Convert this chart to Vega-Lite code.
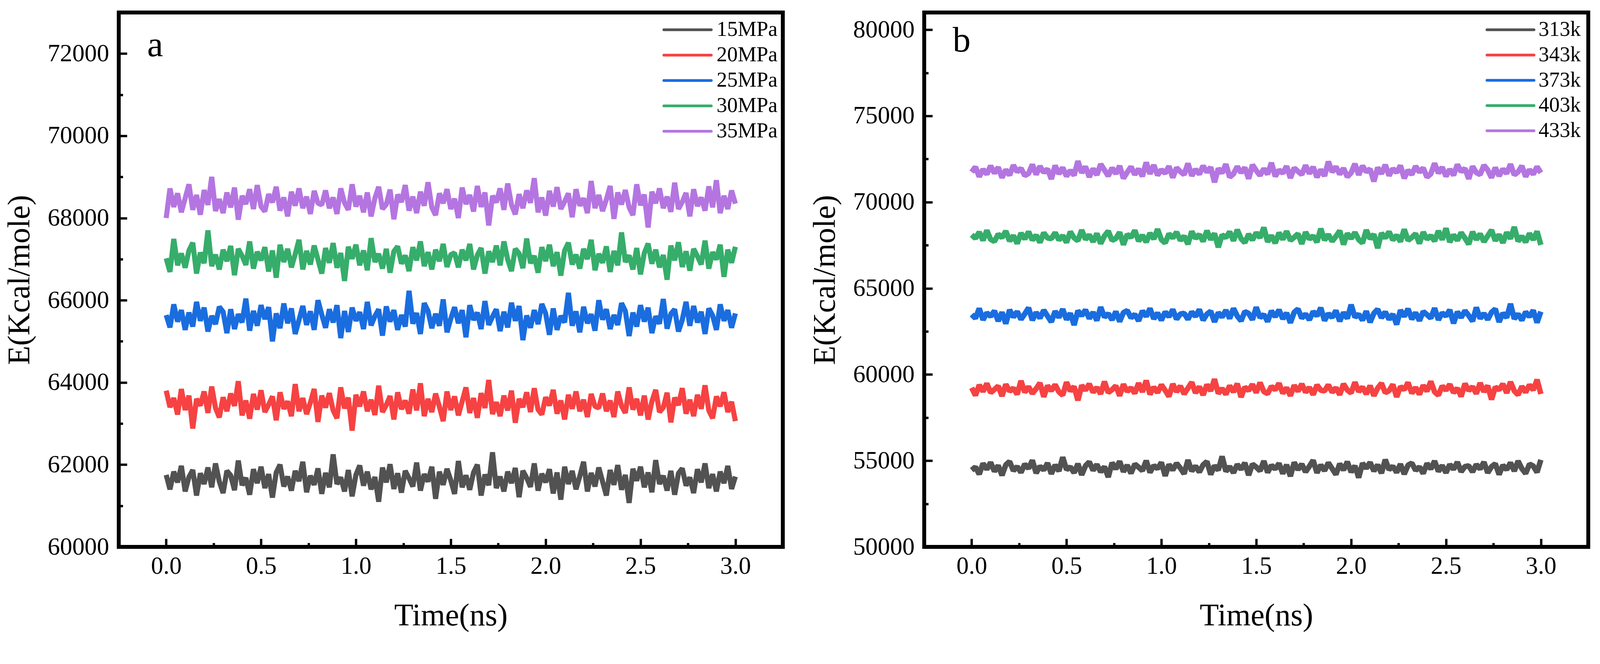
{
  "$schema": "https://vega.github.io/schema/vega-lite/v6.json",
  "background": "white",
  "padding": {"left": 5, "top": 27, "right": 10, "bottom": 10},
  "spacing": 58,
  "config": {
    "view": {"stroke": "black", "strokeWidth": 10},
    "font": "Liberation Serif",
    "axis": {
      "domain": false,
      "grid": false,
      "labelFont": "Liberation Serif",
      "titleFont": "Liberation Serif",
      "labelFontSize": 63,
      "titleFontSize": 80,
      "titleFontWeight": "normal",
      "labelColor": "black",
      "titleColor": "black",
      "tickColor": "black",
      "tickWidth": 6
    },
    "text": {"font": "Liberation Serif", "color": "black"}
  },
  "datasets": {
    "pa": [
      {"t":0,"p15":61750,"p20":63800,"p25":65640,"p30":67020,"p35":68000},
      {"t":0.02,"p15":61400,"p20":63400,"p25":65340,"p30":66690,"p35":68720},
      {"t":0.04,"p15":61830,"p20":63620,"p25":65900,"p30":67490,"p35":68270},
      {"t":0.06,"p15":61570,"p20":63220,"p25":65480,"p30":66850,"p35":68600},
      {"t":0.08,"p15":61970,"p20":63840,"p25":65760,"p30":67140,"p35":68140},
      {"t":0.1,"p15":61350,"p20":63330,"p25":65280,"p30":66790,"p35":68480},
      {"t":0.12,"p15":61700,"p20":63680,"p25":65700,"p30":67210,"p35":68820},
      {"t":0.14,"p15":61870,"p20":62880,"p25":65360,"p30":67400,"p35":68200},
      {"t":0.16,"p15":61250,"p20":63600,"p25":65960,"p30":66650,"p35":68560},
      {"t":0.18,"p15":61790,"p20":63440,"p25":65500,"p30":67160,"p35":68080},
      {"t":0.2,"p15":61530,"p20":63780,"p25":65820,"p30":66900,"p35":68680},
      {"t":0.22,"p15":61930,"p20":63260,"p25":65240,"p30":67700,"p35":68320},
      {"t":0.24,"p15":61450,"p20":63900,"p25":65620,"p30":66830,"p35":69000},
      {"t":0.26,"p15":62030,"p20":63380,"p25":65420,"p30":67110,"p35":68170},
      {"t":0.28,"p15":61590,"p20":63150,"p25":65840,"p30":66750,"p35":68460},
      {"t":0.3,"p15":61310,"p20":63640,"p25":65720,"p30":67230,"p35":68120},
      {"t":0.32,"p15":61850,"p20":63300,"p25":65200,"p30":66950,"p35":68620},
      {"t":0.34,"p15":61740,"p20":63730,"p25":65780,"p30":67320,"p35":68260},
      {"t":0.36,"p15":61380,"p20":63430,"p25":65300,"p30":66610,"p35":68740},
      {"t":0.38,"p15":62100,"p20":64030,"p25":65660,"p30":67250,"p35":67960},
      {"t":0.4,"p15":61500,"p20":63200,"p25":65460,"p30":67080,"p35":68540},
      {"t":0.42,"p15":61680,"p20":63560,"p25":66040,"p30":66860,"p35":68340},
      {"t":0.44,"p15":61270,"p20":63120,"p25":65260,"p30":67430,"p35":68700},
      {"t":0.46,"p15":61890,"p20":63720,"p25":65740,"p30":66770,"p35":68220},
      {"t":0.48,"p15":61550,"p20":63340,"p25":65380,"p30":67180,"p35":68800},
      {"t":0.5,"p15":61950,"p20":63810,"p25":65880,"p30":66970,"p35":68280},
      {"t":0.52,"p15":61430,"p20":63280,"p25":65540,"p30":67290,"p35":68160},
      {"t":0.54,"p15":61770,"p20":63460,"p25":65830,"p30":66700,"p35":68580},
      {"t":0.56,"p15":61200,"p20":63660,"p25":65000,"p30":67210,"p35":68380},
      {"t":0.58,"p15":61810,"p20":63080,"p25":65680,"p30":66550,"p35":68760},
      {"t":0.6,"p15":62000,"p20":63760,"p25":65320,"p30":67350,"p35":68180},
      {"t":0.62,"p15":61470,"p20":63360,"p25":65920,"p30":66930,"p35":68500},
      {"t":0.64,"p15":61710,"p20":63540,"p25":65440,"p30":67250,"p35":68040},
      {"t":0.66,"p15":61370,"p20":63180,"p25":65800,"p30":66800,"p35":68640},
      {"t":0.68,"p15":61850,"p20":63960,"p25":65180,"p30":67120,"p35":68300},
      {"t":0.7,"p15":61600,"p20":63300,"p25":65520,"p30":67470,"p35":68720},
      {"t":0.72,"p15":62070,"p20":63620,"p25":65860,"p30":66750,"p35":68240},
      {"t":0.74,"p15":61330,"p20":63230,"p25":65400,"p30":67200,"p35":68520},
      {"t":0.76,"p15":61730,"p20":63510,"p25":65730,"p30":66870,"p35":68100},
      {"t":0.78,"p15":61510,"p20":63840,"p25":65280,"p30":67330,"p35":68660},
      {"t":0.8,"p15":61910,"p20":63040,"p25":66000,"p30":66990,"p35":68360},
      {"t":0.82,"p15":61290,"p20":63680,"p25":65650,"p30":66650,"p35":68320},
      {"t":0.84,"p15":61800,"p20":63390,"p25":65330,"p30":67270,"p35":68670},
      {"t":0.86,"p15":61450,"p20":63740,"p25":65780,"p30":66910,"p35":68240},
      {"t":0.88,"p15":62250,"p20":63320,"p25":65460,"p30":67390,"p35":68500},
      {"t":0.9,"p15":61530,"p20":63130,"p25":65880,"p30":66790,"p35":68100},
      {"t":0.92,"p15":61690,"p20":63880,"p25":65080,"p30":67150,"p35":68720},
      {"t":0.94,"p15":61350,"p20":63370,"p25":65740,"p30":66470,"p35":68370},
      {"t":0.96,"p15":61870,"p20":63630,"p25":65230,"p30":67300,"p35":68200},
      {"t":0.98,"p15":61230,"p20":62830,"p25":65820,"p30":67010,"p35":68820},
      {"t":1,"p15":61750,"p20":63700,"p25":65500,"p30":67350,"p35":68280},
      {"t":1.02,"p15":61980,"p20":63420,"p25":65710,"p30":66850,"p35":68540},
      {"t":1.04,"p15":61490,"p20":63780,"p25":65300,"p30":67210,"p35":68140},
      {"t":1.06,"p15":61830,"p20":63300,"p25":65960,"p30":66730,"p35":68620},
      {"t":1.08,"p15":61400,"p20":63580,"p25":65390,"p30":67510,"p35":68040},
      {"t":1.1,"p15":61700,"p20":63210,"p25":65610,"p30":66930,"p35":68480},
      {"t":1.12,"p15":61100,"p20":63920,"p25":65780,"p30":67130,"p35":68760},
      {"t":1.14,"p15":61930,"p20":63280,"p25":65140,"p30":66770,"p35":68220},
      {"t":1.16,"p15":61570,"p20":63450,"p25":65850,"p30":67250,"p35":68330},
      {"t":1.18,"p15":62010,"p20":63670,"p25":65480,"p30":66670,"p35":68690},
      {"t":1.2,"p15":61410,"p20":63100,"p25":65760,"p30":67190,"p35":67970},
      {"t":1.22,"p15":61790,"p20":63760,"p25":65280,"p30":67310,"p35":68570},
      {"t":1.24,"p15":61320,"p20":63350,"p25":65640,"p30":66890,"p35":68390},
      {"t":1.26,"p15":61850,"p20":63560,"p25":65360,"p30":67090,"p35":68800},
      {"t":1.28,"p15":61670,"p20":63240,"p25":66230,"p30":66710,"p35":68180},
      {"t":1.3,"p15":61470,"p20":63830,"p25":65430,"p30":67290,"p35":68520},
      {"t":1.32,"p15":62050,"p20":63320,"p25":65690,"p30":66970,"p35":68120},
      {"t":1.34,"p15":61370,"p20":63980,"p25":65180,"p30":67430,"p35":68640},
      {"t":1.36,"p15":61770,"p20":63180,"p25":65930,"p30":66830,"p35":68300},
      {"t":1.38,"p15":61590,"p20":63600,"p25":65740,"p30":67170,"p35":68870},
      {"t":1.4,"p15":61950,"p20":63280,"p25":65320,"p30":66750,"p35":68260},
      {"t":1.42,"p15":61170,"p20":63730,"p25":65670,"p30":67230,"p35":68070},
      {"t":1.44,"p15":61830,"p20":63410,"p25":65380,"p30":66950,"p35":68600},
      {"t":1.46,"p15":61510,"p20":63060,"p25":66020,"p30":67370,"p35":68360},
      {"t":1.48,"p15":61900,"p20":63780,"p25":65220,"p30":66810,"p35":68700},
      {"t":1.5,"p15":61620,"p20":63330,"p25":65550,"p30":67110,"p35":68220},
      {"t":1.52,"p15":61290,"p20":63660,"p25":65830,"p30":67150,"p35":68470},
      {"t":1.54,"p15":62090,"p20":63200,"p25":65440,"p30":66800,"p35":68000},
      {"t":1.56,"p15":61450,"p20":63540,"p25":65760,"p30":67230,"p35":68740},
      {"t":1.58,"p15":61740,"p20":63880,"p25":65100,"p30":66970,"p35":68340},
      {"t":1.6,"p15":61390,"p20":63260,"p25":65880,"p30":67370,"p35":68560},
      {"t":1.62,"p15":61810,"p20":63620,"p25":65520,"p30":66750,"p35":68160},
      {"t":1.64,"p15":62000,"p20":63140,"p25":65700,"p30":67100,"p35":68780},
      {"t":1.66,"p15":61250,"p20":63740,"p25":65300,"p30":67270,"p35":68270},
      {"t":1.68,"p15":61760,"p20":63380,"p25":65980,"p30":66650,"p35":68620},
      {"t":1.7,"p15":61500,"p20":64060,"p25":65400,"p30":67190,"p35":67820},
      {"t":1.72,"p15":62300,"p20":63230,"p25":65600,"p30":66930,"p35":68540},
      {"t":1.74,"p15":61430,"p20":63520,"p25":65780,"p30":67330,"p35":68380},
      {"t":1.76,"p15":61710,"p20":63180,"p25":65250,"p30":66850,"p35":68720},
      {"t":1.78,"p15":61350,"p20":63680,"p25":65720,"p30":67430,"p35":68200},
      {"t":1.8,"p15":61830,"p20":63320,"p25":65340,"p30":66990,"p35":68840},
      {"t":1.82,"p15":61550,"p20":63800,"p25":65940,"p30":66710,"p35":68320},
      {"t":1.84,"p15":61920,"p20":63020,"p25":65500,"p30":67250,"p35":68090},
      {"t":1.86,"p15":61210,"p20":63600,"p25":65860,"p30":67140,"p35":68580},
      {"t":1.88,"p15":61850,"p20":63400,"p25":65030,"p30":66780,"p35":68240},
      {"t":1.9,"p15":61680,"p20":63760,"p25":65630,"p30":67500,"p35":68670},
      {"t":1.92,"p15":61460,"p20":63280,"p25":65330,"p30":66900,"p35":68370},
      {"t":1.94,"p15":62030,"p20":63860,"p25":65760,"p30":67080,"p35":68970},
      {"t":1.96,"p15":61370,"p20":63340,"p25":65420,"p30":66670,"p35":68140},
      {"t":1.98,"p15":61780,"p20":63220,"p25":65910,"p30":67290,"p35":68500},
      {"t":2,"p15":61570,"p20":63640,"p25":65680,"p30":66950,"p35":68060},
      {"t":2.02,"p15":61890,"p20":63440,"p25":65160,"p30":67350,"p35":68660},
      {"t":2.04,"p15":61300,"p20":63820,"p25":65800,"p30":66830,"p35":68280},
      {"t":2.06,"p15":61810,"p20":63240,"p25":65280,"p30":67170,"p35":68750},
      {"t":2.08,"p15":61150,"p20":63560,"p25":65620,"p30":66600,"p35":68220},
      {"t":2.1,"p15":61950,"p20":63100,"p25":65460,"p30":67210,"p35":68400},
      {"t":2.12,"p15":61530,"p20":63700,"p25":66180,"p30":67400,"p35":68600},
      {"t":2.14,"p15":61850,"p20":63360,"p25":65380,"p30":66870,"p35":68020},
      {"t":2.16,"p15":61400,"p20":63780,"p25":65730,"p30":67110,"p35":68700},
      {"t":2.18,"p15":61720,"p20":63300,"p25":65220,"p30":66770,"p35":68300},
      {"t":2.2,"p15":62070,"p20":63580,"p25":65840,"p30":67250,"p35":68480},
      {"t":2.22,"p15":61350,"p20":63160,"p25":65440,"p30":67000,"p35":68120},
      {"t":2.24,"p15":61800,"p20":63720,"p25":65660,"p30":67470,"p35":68900},
      {"t":2.26,"p15":61470,"p20":63420,"p25":65260,"p30":66730,"p35":68240},
      {"t":2.28,"p15":61930,"p20":63380,"p25":66000,"p30":67130,"p35":68560},
      {"t":2.3,"p15":61590,"p20":63730,"p25":65530,"p30":66910,"p35":68170},
      {"t":2.32,"p15":61250,"p20":63300,"p25":65780,"p30":67310,"p35":68450},
      {"t":2.34,"p15":61870,"p20":63560,"p25":65300,"p30":66690,"p35":68780},
      {"t":2.36,"p15":61510,"p20":63160,"p25":65640,"p30":67200,"p35":67980},
      {"t":2.38,"p15":61990,"p20":63780,"p25":65400,"p30":66850,"p35":68620},
      {"t":2.4,"p15":61390,"p20":63430,"p25":65930,"p30":67650,"p35":68330},
      {"t":2.42,"p15":61750,"p20":63260,"p25":65740,"p30":66930,"p35":68680},
      {"t":2.44,"p15":61070,"p20":63880,"p25":65130,"p30":67090,"p35":68260},
      {"t":2.46,"p15":61900,"p20":63340,"p25":65700,"p30":66750,"p35":68070},
      {"t":2.48,"p15":61610,"p20":63600,"p25":65360,"p30":67270,"p35":68820},
      {"t":2.5,"p15":61950,"p20":63200,"p25":65880,"p30":66630,"p35":68310},
      {"t":2.52,"p15":61450,"p20":63680,"p25":65480,"p30":67150,"p35":68570},
      {"t":2.54,"p15":61810,"p20":63100,"p25":65820,"p30":67380,"p35":67770},
      {"t":2.56,"p15":61330,"p20":63540,"p25":65200,"p30":66890,"p35":68640},
      {"t":2.58,"p15":62110,"p20":63820,"p25":65610,"p30":67230,"p35":68360},
      {"t":2.6,"p15":61530,"p20":63280,"p25":65430,"p30":66800,"p35":68720},
      {"t":2.62,"p15":61730,"p20":63390,"p25":66030,"p30":67100,"p35":68240},
      {"t":2.64,"p15":61370,"p20":63750,"p25":65310,"p30":66500,"p35":68520},
      {"t":2.66,"p15":61850,"p20":63030,"p25":65670,"p30":67330,"p35":68150},
      {"t":2.68,"p15":61270,"p20":63630,"p25":65780,"p30":66970,"p35":68860},
      {"t":2.7,"p15":61790,"p20":63450,"p25":65240,"p30":67410,"p35":68220},
      {"t":2.72,"p15":61910,"p20":63860,"p25":65520,"p30":66810,"p35":68390},
      {"t":2.74,"p15":61490,"p20":63240,"p25":65960,"p30":67190,"p35":68610},
      {"t":2.76,"p15":61690,"p20":63580,"p25":65380,"p30":66720,"p35":68040},
      {"t":2.78,"p15":61310,"p20":63180,"p25":65860,"p30":67250,"p35":68700},
      {"t":2.8,"p15":61890,"p20":63700,"p25":65460,"p30":67070,"p35":68290},
      {"t":2.82,"p15":61570,"p20":63360,"p25":65720,"p30":66870,"p35":68500},
      {"t":2.84,"p15":62030,"p20":63930,"p25":65180,"p30":67450,"p35":68180},
      {"t":2.86,"p15":61430,"p20":63320,"p25":65800,"p30":66770,"p35":68770},
      {"t":2.88,"p15":61770,"p20":63130,"p25":65630,"p30":67170,"p35":68260},
      {"t":2.9,"p15":61350,"p20":63660,"p25":65280,"p30":66990,"p35":68920},
      {"t":2.92,"p15":61830,"p20":63420,"p25":65900,"p30":67350,"p35":68120},
      {"t":2.94,"p15":61550,"p20":63760,"p25":65500,"p30":66570,"p35":68540},
      {"t":2.96,"p15":61970,"p20":63280,"p25":65760,"p30":67230,"p35":68220},
      {"t":2.98,"p15":61410,"p20":63530,"p25":65330,"p30":66910,"p35":68670},
      {"t":3,"p15":61710,"p20":63060,"p25":65680,"p30":67300,"p35":68350}
    ],
    "pb": [
      {"t":0,"k313":54450,"k343":59230,"k373":63480,"k403":68100,"k433":71740},
      {"t":0.02,"k313":54630,"k343":58790,"k373":63260,"k403":67900,"k433":72040},
      {"t":0.04,"k313":54220,"k343":59390,"k373":63830,"k403":68260,"k433":71480},
      {"t":0.06,"k313":54840,"k343":59010,"k373":63170,"k403":67780,"k433":71900},
      {"t":0.08,"k313":54500,"k343":59480,"k373":63580,"k403":68360,"k433":71620},
      {"t":0.1,"k313":54900,"k343":58950,"k373":63370,"k403":67840,"k433":72100},
      {"t":0.12,"k313":54380,"k343":59130,"k373":63690,"k403":67720,"k433":71680},
      {"t":0.14,"k313":54720,"k343":59330,"k373":63100,"k403":68140,"k433":72020},
      {"t":0.16,"k313":54150,"k343":58750,"k373":63610,"k403":67940,"k433":71420},
      {"t":0.18,"k313":54760,"k343":59430,"k373":62950,"k403":68320,"k433":71880},
      {"t":0.2,"k313":54950,"k343":59030,"k373":63750,"k403":67740,"k433":71560},
      {"t":0.22,"k313":54420,"k343":59210,"k373":63330,"k403":68060,"k433":72140},
      {"t":0.24,"k313":54660,"k343":58850,"k373":63650,"k403":67600,"k433":71760},
      {"t":0.26,"k313":54320,"k343":59630,"k373":63200,"k403":68200,"k433":71960},
      {"t":0.28,"k313":54800,"k343":58970,"k373":63520,"k403":67860,"k433":71540},
      {"t":0.3,"k313":54550,"k343":59290,"k373":63870,"k403":68280,"k433":71660},
      {"t":0.32,"k313":55020,"k343":58900,"k373":63150,"k403":67800,"k433":72180},
      {"t":0.34,"k313":54280,"k343":59180,"k373":63600,"k403":68080,"k433":71600},
      {"t":0.36,"k313":54680,"k343":59510,"k373":63270,"k403":67660,"k433":72080},
      {"t":0.38,"k313":54460,"k343":58710,"k373":63730,"k403":68220,"k433":71720},
      {"t":0.4,"k313":54860,"k343":59350,"k373":63390,"k403":67920,"k433":71920},
      {"t":0.42,"k313":54240,"k343":59060,"k373":63050,"k403":67880,"k433":71340},
      {"t":0.44,"k313":54750,"k343":59410,"k373":63670,"k403":68230,"k433":72120},
      {"t":0.46,"k313":54400,"k343":58990,"k373":63310,"k403":67800,"k433":71640},
      {"t":0.48,"k313":55200,"k343":58800,"k373":63790,"k403":68060,"k433":72000},
      {"t":0.5,"k313":54480,"k343":59550,"k373":63190,"k403":67660,"k433":71500},
      {"t":0.52,"k313":54640,"k343":59040,"k373":63550,"k403":68280,"k433":71840},
      {"t":0.54,"k313":54300,"k343":59300,"k373":62870,"k403":67930,"k433":71550},
      {"t":0.56,"k313":54820,"k343":58500,"k373":63700,"k403":67760,"k433":72380},
      {"t":0.58,"k313":54180,"k343":59370,"k373":63410,"k403":68380,"k433":71700},
      {"t":0.6,"k313":54700,"k343":59090,"k373":63750,"k403":67840,"k433":72060},
      {"t":0.62,"k313":54930,"k343":59450,"k373":63250,"k403":68100,"k433":71460},
      {"t":0.64,"k313":54440,"k343":58970,"k373":63610,"k403":67700,"k433":71940},
      {"t":0.66,"k313":54780,"k343":59250,"k373":63130,"k403":68180,"k433":71580},
      {"t":0.68,"k313":54350,"k343":58880,"k373":63910,"k403":67600,"k433":72200},
      {"t":0.7,"k313":54650,"k343":59590,"k373":63330,"k403":68040,"k433":71860},
      {"t":0.72,"k313":54050,"k343":58950,"k373":63530,"k403":68320,"k433":71520},
      {"t":0.74,"k313":54880,"k343":59120,"k373":63170,"k403":67780,"k433":71980},
      {"t":0.76,"k313":54520,"k343":59340,"k373":63650,"k403":67890,"k433":71650},
      {"t":0.78,"k313":54960,"k343":58770,"k373":63070,"k403":68250,"k433":72100},
      {"t":0.8,"k313":54360,"k343":59430,"k373":63590,"k403":67530,"k433":71380},
      {"t":0.82,"k313":54740,"k343":59020,"k373":63710,"k403":68130,"k433":71730},
      {"t":0.84,"k313":54270,"k343":59230,"k373":63290,"k403":67950,"k433":72050},
      {"t":0.86,"k313":54800,"k343":58910,"k373":63490,"k403":68360,"k433":71600},
      {"t":0.88,"k313":54620,"k343":59500,"k373":63110,"k403":67740,"k433":71920},
      {"t":0.9,"k313":54420,"k343":58990,"k373":63690,"k403":68080,"k433":71500},
      {"t":0.92,"k313":55000,"k343":59650,"k373":63370,"k403":67680,"k433":72300},
      {"t":0.94,"k313":54320,"k343":58850,"k373":63830,"k403":68200,"k433":71640},
      {"t":0.96,"k313":54720,"k343":59270,"k373":63230,"k403":67860,"k433":72150},
      {"t":0.98,"k313":54540,"k343":58950,"k373":63570,"k403":68430,"k433":71560},
      {"t":1,"k313":54900,"k343":59400,"k373":63150,"k403":67820,"k433":71880},
      {"t":1.02,"k313":54120,"k343":59080,"k373":63630,"k403":67630,"k433":71670},
      {"t":1.04,"k313":54780,"k343":58730,"k373":63350,"k403":68160,"k433":72080},
      {"t":1.06,"k313":54460,"k343":59450,"k373":63770,"k403":67920,"k433":71420},
      {"t":1.08,"k313":54850,"k343":59000,"k373":63210,"k403":68260,"k433":71990},
      {"t":1.1,"k313":54570,"k343":59330,"k373":63510,"k403":67780,"k433":71770},
      {"t":1.12,"k313":54240,"k343":58870,"k373":63550,"k403":68030,"k433":71600},
      {"t":1.14,"k313":55040,"k343":59210,"k373":63200,"k403":67560,"k433":72240},
      {"t":1.16,"k313":54400,"k343":59550,"k373":63630,"k403":68300,"k433":71530},
      {"t":1.18,"k313":54690,"k343":58930,"k373":63370,"k403":67900,"k433":71900},
      {"t":1.2,"k313":54340,"k343":59290,"k373":63770,"k403":68120,"k433":71620},
      {"t":1.22,"k313":54760,"k343":58810,"k373":63150,"k403":67720,"k433":72100},
      {"t":1.24,"k313":54950,"k343":59410,"k373":63500,"k403":68340,"k433":71740},
      {"t":1.26,"k313":54200,"k343":59050,"k373":63670,"k403":67830,"k433":72020},
      {"t":1.28,"k313":54710,"k343":59730,"k373":63050,"k403":68180,"k433":71150},
      {"t":1.3,"k313":54450,"k343":58900,"k373":63590,"k403":67380,"k433":71950},
      {"t":1.32,"k313":55250,"k343":59190,"k373":63330,"k403":68100,"k433":71690},
      {"t":1.34,"k313":54380,"k343":58850,"k373":63730,"k403":67940,"k433":72200},
      {"t":1.36,"k313":54660,"k343":59350,"k373":63250,"k403":68280,"k433":71450},
      {"t":1.38,"k313":54300,"k343":58990,"k373":63830,"k403":67760,"k433":71640},
      {"t":1.4,"k313":54780,"k343":59470,"k373":63390,"k403":68400,"k433":72060},
      {"t":1.42,"k313":54500,"k343":58690,"k373":63110,"k403":67880,"k433":71710},
      {"t":1.44,"k313":54870,"k343":59270,"k373":63650,"k403":67650,"k433":72000},
      {"t":1.46,"k313":54160,"k343":59070,"k373":63540,"k403":68140,"k433":71360},
      {"t":1.48,"k313":54800,"k343":59430,"k373":63180,"k403":67800,"k433":72160},
      {"t":1.5,"k313":54630,"k343":58950,"k373":63900,"k403":68230,"k433":71830},
      {"t":1.52,"k313":54410,"k343":59530,"k373":63300,"k403":67930,"k433":71550},
      {"t":1.54,"k313":54980,"k343":59010,"k373":63480,"k403":68530,"k433":71940},
      {"t":1.56,"k313":54320,"k343":58890,"k373":63070,"k403":67700,"k433":71620},
      {"t":1.58,"k313":54730,"k343":59310,"k373":63690,"k403":68060,"k433":72280},
      {"t":1.6,"k313":54520,"k343":59110,"k373":63350,"k403":67620,"k433":71500},
      {"t":1.62,"k313":54840,"k343":59490,"k373":63750,"k403":68220,"k433":71860},
      {"t":1.64,"k313":54250,"k343":58910,"k373":63230,"k403":67840,"k433":71680},
      {"t":1.66,"k313":54760,"k343":59230,"k373":63570,"k403":68310,"k433":72080},
      {"t":1.68,"k313":54100,"k343":58770,"k373":63000,"k403":67780,"k433":71400},
      {"t":1.7,"k313":54900,"k343":59370,"k373":63610,"k403":67960,"k433":71980},
      {"t":1.72,"k313":54480,"k343":59030,"k373":63800,"k403":68160,"k433":71780},
      {"t":1.74,"k313":54800,"k343":59450,"k373":63270,"k403":67580,"k433":71600},
      {"t":1.76,"k313":54350,"k343":58970,"k373":63510,"k403":68260,"k433":72130},
      {"t":1.78,"k313":54670,"k343":59250,"k373":63170,"k403":67860,"k433":71660},
      {"t":1.8,"k313":55020,"k343":58830,"k373":63650,"k403":68040,"k433":72040},
      {"t":1.82,"k313":54300,"k343":59390,"k373":63400,"k403":67680,"k433":71440},
      {"t":1.84,"k313":54750,"k343":59090,"k373":63870,"k403":68460,"k433":71880},
      {"t":1.86,"k313":54420,"k343":59050,"k373":63130,"k403":67800,"k433":71520},
      {"t":1.88,"k313":54880,"k343":59400,"k373":63530,"k403":68120,"k433":72350},
      {"t":1.9,"k313":54540,"k343":58970,"k373":63310,"k403":67730,"k433":71750},
      {"t":1.92,"k313":54200,"k343":59230,"k373":63710,"k403":68010,"k433":72050},
      {"t":1.94,"k313":54820,"k343":58830,"k373":63090,"k403":68340,"k433":71620},
      {"t":1.96,"k313":54460,"k343":59450,"k373":63600,"k403":67540,"k433":71960},
      {"t":1.98,"k313":54940,"k343":59100,"k373":63250,"k403":68180,"k433":71470},
      {"t":2,"k313":54340,"k343":58930,"k373":64050,"k403":67890,"k433":71700},
      {"t":2.02,"k313":54700,"k343":59550,"k373":63330,"k403":68240,"k433":72220},
      {"t":2.04,"k313":54020,"k343":59010,"k373":63490,"k403":67820,"k433":71580},
      {"t":2.06,"k313":54850,"k343":59270,"k373":63150,"k403":67630,"k433":72100},
      {"t":2.08,"k313":54560,"k343":58870,"k373":63670,"k403":68380,"k433":71760},
      {"t":2.1,"k313":54900,"k343":59350,"k373":63030,"k403":67870,"k433":71920},
      {"t":2.12,"k313":54400,"k343":58770,"k373":63550,"k403":68130,"k433":71200},
      {"t":2.14,"k313":54760,"k343":59210,"k373":63780,"k403":67330,"k433":72000},
      {"t":2.16,"k313":54280,"k343":59490,"k373":63290,"k403":68200,"k433":71650},
      {"t":2.18,"k313":55060,"k343":58950,"k373":63630,"k403":67920,"k433":72160},
      {"t":2.2,"k313":54480,"k343":59060,"k373":63200,"k403":68280,"k433":71540},
      {"t":2.22,"k313":54680,"k343":59420,"k373":63500,"k403":67800,"k433":71940},
      {"t":2.24,"k313":54320,"k343":58700,"k373":62900,"k403":68080,"k433":71720},
      {"t":2.26,"k313":54800,"k343":59300,"k373":63730,"k403":67710,"k433":72120},
      {"t":2.28,"k313":54220,"k343":59120,"k373":63370,"k403":68420,"k433":71380},
      {"t":2.3,"k313":54740,"k343":59530,"k373":63810,"k403":67780,"k433":71850},
      {"t":2.32,"k313":54860,"k343":58910,"k373":63210,"k403":67950,"k433":71600},
      {"t":2.34,"k313":54440,"k343":59250,"k373":63590,"k403":68170,"k433":72080},
      {"t":2.36,"k313":54640,"k343":58850,"k373":63120,"k403":67600,"k433":71740},
      {"t":2.38,"k313":54260,"k343":59370,"k373":63650,"k403":68260,"k433":71980},
      {"t":2.4,"k313":54840,"k343":59030,"k373":63470,"k403":67850,"k433":71450},
      {"t":2.42,"k313":54520,"k343":59600,"k373":63270,"k403":68060,"k433":71640},
      {"t":2.44,"k313":54980,"k343":58990,"k373":63850,"k403":67740,"k433":72250},
      {"t":2.46,"k313":54380,"k343":58800,"k373":63170,"k403":68330,"k433":71680},
      {"t":2.48,"k313":54720,"k343":59330,"k373":63570,"k403":67820,"k433":72020},
      {"t":2.5,"k313":54300,"k343":59090,"k373":63390,"k403":68480,"k433":71500},
      {"t":2.52,"k313":54780,"k343":59430,"k373":63750,"k403":67680,"k433":71900},
      {"t":2.54,"k313":54500,"k343":58950,"k373":62970,"k403":68100,"k433":71560},
      {"t":2.56,"k313":54920,"k343":59200,"k373":63630,"k403":67780,"k433":72180},
      {"t":2.58,"k313":54360,"k343":58730,"k373":63310,"k403":68230,"k433":71770},
      {"t":2.6,"k313":54660,"k343":59470,"k373":63700,"k403":67910,"k433":71950},
      {"t":2.62,"k313":54700,"k343":59070,"k373":63420,"k403":67560,"k433":71350},
      {"t":2.64,"k313":54350,"k343":59290,"k373":63090,"k403":68280,"k433":72070},
      {"t":2.66,"k313":54780,"k343":58890,"k373":63890,"k403":67830,"k433":71710},
      {"t":2.68,"k313":54520,"k343":59510,"k373":63250,"k403":68160,"k433":71600},
      {"t":2.7,"k313":54920,"k343":59000,"k373":63540,"k403":67700,"k433":72140},
      {"t":2.72,"k313":54300,"k343":59350,"k373":63190,"k403":68040,"k433":71860},
      {"t":2.74,"k313":54650,"k343":58550,"k373":63610,"k403":68380,"k433":71420},
      {"t":2.76,"k313":54820,"k343":59270,"k373":63800,"k403":67760,"k433":72000},
      {"t":2.78,"k313":54200,"k343":59110,"k373":63050,"k403":68120,"k433":71520},
      {"t":2.8,"k313":54740,"k343":59450,"k373":63560,"k403":67640,"k433":71920},
      {"t":2.82,"k313":54480,"k343":58930,"k373":63300,"k403":68240,"k433":71660},
      {"t":2.84,"k313":54880,"k343":59570,"k373":64100,"k403":67880,"k433":72200},
      {"t":2.86,"k313":54400,"k343":59050,"k373":63230,"k403":68560,"k433":71580},
      {"t":2.88,"k313":54980,"k343":58820,"k373":63510,"k403":67730,"k433":71750},
      {"t":2.9,"k313":54540,"k343":59310,"k373":63150,"k403":68020,"k433":72100},
      {"t":2.92,"k313":54260,"k343":58970,"k373":63630,"k403":67680,"k433":71480},
      {"t":2.94,"k313":54800,"k343":59400,"k373":63350,"k403":68180,"k433":71880},
      {"t":2.96,"k313":54690,"k343":59100,"k373":63720,"k403":67820,"k433":71620},
      {"t":2.98,"k313":54330,"k343":59700,"k373":63010,"k403":68300,"k433":72050},
      {"t":3,"k313":55050,"k343":58870,"k373":63650,"k403":67520,"k433":71700}
    ]
  },
  "hconcat": [
    {
      "width": 1700,
      "height": 1369,
      "resolve": {"axis": {"x": "independent", "y": "independent"}},
      "layer": [
        {
          "data": {"name": "pa"},
          "transform": [{"fold": ["p15", "p20", "p25", "p30", "p35"], "as": ["series", "E"]}],
          "mark": {"type": "line", "strokeWidth": 13, "strokeJoin": "bevel"},
          "encoding": {
            "x": {"field": "t", "type": "quantitative",
              "scale": {"domain": [-0.25, 3.25], "nice": false, "zero": false},
              "axis": {"title": "Time(ns)", "orient": "bottom", "values": [0, 0.5, 1, 1.5, 2, 2.5, 3], "format": ".1f", "tickSize": -21, "labelPadding": 39, "titlePadding": 56}},
            "y": {"field": "E", "type": "quantitative",
              "scale": {"domain": [60000, 73000], "nice": false, "zero": false},
              "axis": {"title": "E(Kcal/mole)", "orient": "left", "values": [60000, 62000, 64000, 66000, 68000, 70000, 72000], "format": "d", "tickSize": -21, "labelPadding": 46, "titlePadding": 30}},
            "color": {"field": "series", "type": "nominal",
              "scale": {"domain": ["p15", "p20", "p25", "p30", "p35"], "range": ["#525252", "#f64242", "#1a6ddf", "#36ad6a", "#b475e1"]},
              "legend": null}
          }
        },
        {
          "data": {"values": [{}]},
          "mark": {"type": "text", "text": "a", "fontSize": 92, "align": "left", "baseline": "alphabetic"},
          "encoding": {
            "x": {"datum": -0.1, "type": "quantitative", "axis": {"orient": "bottom", "values": [0.25, 0.75, 1.25, 1.75, 2.25, 2.75], "tickSize": -10.5, "labels": false, "title": null}},
            "y": {"datum": 71935, "type": "quantitative", "axis": {"orient": "left", "values": [61000, 63000, 65000, 67000, 69000, 71000], "tickSize": -10.5, "labels": false, "title": null}}
          }
        },
        {"data": {"values": [{}]}, "mark": {"type": "rule", "color": "#525252", "strokeWidth": 7, "strokeCap": "round"},
          "encoding": {"x": {"datum": 2.623, "type": "quantitative", "axis": null}, "x2": {"datum": 2.873}, "y": {"datum": 72580, "type": "quantitative", "axis": null}}},
        {"data": {"values": [{}]}, "mark": {"type": "rule", "color": "#f64242", "strokeWidth": 7, "strokeCap": "round"},
          "encoding": {"x": {"datum": 2.623, "type": "quantitative", "axis": null}, "x2": {"datum": 2.873}, "y": {"datum": 71963, "type": "quantitative", "axis": null}}},
        {"data": {"values": [{}]}, "mark": {"type": "rule", "color": "#1a6ddf", "strokeWidth": 7, "strokeCap": "round"},
          "encoding": {"x": {"datum": 2.623, "type": "quantitative", "axis": null}, "x2": {"datum": 2.873}, "y": {"datum": 71346, "type": "quantitative", "axis": null}}},
        {"data": {"values": [{}]}, "mark": {"type": "rule", "color": "#36ad6a", "strokeWidth": 7, "strokeCap": "round"},
          "encoding": {"x": {"datum": 2.623, "type": "quantitative", "axis": null}, "x2": {"datum": 2.873}, "y": {"datum": 70729, "type": "quantitative", "axis": null}}},
        {"data": {"values": [{}]}, "mark": {"type": "rule", "color": "#b475e1", "strokeWidth": 7, "strokeCap": "round"},
          "encoding": {"x": {"datum": 2.623, "type": "quantitative", "axis": null}, "x2": {"datum": 2.873}, "y": {"datum": 70112, "type": "quantitative", "axis": null}}},
        {"data": {"values": [{}]}, "mark": {"type": "text", "text": "15MPa", "fontSize": 54, "align": "left", "baseline": "middle"},
          "encoding": {"x": {"datum": 2.901, "type": "quantitative", "axis": null}, "y": {"datum": 72580, "type": "quantitative", "axis": null}}},
        {"data": {"values": [{}]}, "mark": {"type": "text", "text": "20MPa", "fontSize": 54, "align": "left", "baseline": "middle"},
          "encoding": {"x": {"datum": 2.901, "type": "quantitative", "axis": null}, "y": {"datum": 71963, "type": "quantitative", "axis": null}}},
        {"data": {"values": [{}]}, "mark": {"type": "text", "text": "25MPa", "fontSize": 54, "align": "left", "baseline": "middle"},
          "encoding": {"x": {"datum": 2.901, "type": "quantitative", "axis": null}, "y": {"datum": 71346, "type": "quantitative", "axis": null}}},
        {"data": {"values": [{}]}, "mark": {"type": "text", "text": "30MPa", "fontSize": 54, "align": "left", "baseline": "middle"},
          "encoding": {"x": {"datum": 2.901, "type": "quantitative", "axis": null}, "y": {"datum": 70729, "type": "quantitative", "axis": null}}},
        {"data": {"values": [{}]}, "mark": {"type": "text", "text": "35MPa", "fontSize": 54, "align": "left", "baseline": "middle"},
          "encoding": {"x": {"datum": 2.901, "type": "quantitative", "axis": null}, "y": {"datum": 70112, "type": "quantitative", "axis": null}}}
      ]
    },
    {
      "width": 1700,
      "height": 1369,
      "resolve": {"axis": {"x": "independent", "y": "independent"}},
      "layer": [
        {
          "data": {"name": "pb"},
          "transform": [{"fold": ["k313", "k343", "k373", "k403", "k433"], "as": ["series", "E"]}],
          "mark": {"type": "line", "strokeWidth": 14, "strokeJoin": "bevel"},
          "encoding": {
            "x": {"field": "t", "type": "quantitative",
              "scale": {"domain": [-0.25, 3.25], "nice": false, "zero": false},
              "axis": {"title": "Time(ns)", "orient": "bottom", "values": [0, 0.5, 1, 1.5, 2, 2.5, 3], "format": ".1f", "tickSize": -21, "labelPadding": 39, "titlePadding": 56}},
            "y": {"field": "E", "type": "quantitative",
              "scale": {"domain": [50000, 81000], "nice": false, "zero": false},
              "axis": {"title": "E(Kcal/mole)", "orient": "left", "values": [50000, 55000, 60000, 65000, 70000, 75000, 80000], "format": "d", "tickSize": -21, "labelPadding": 46, "titlePadding": 30}},
            "color": {"field": "series", "type": "nominal",
              "scale": {"domain": ["k313", "k343", "k373", "k403", "k433"], "range": ["#525252", "#f64242", "#1a6ddf", "#36ad6a", "#b475e1"]},
              "legend": null}
          }
        },
        {
          "data": {"values": [{}]},
          "mark": {"type": "text", "text": "b", "fontSize": 92, "align": "left", "baseline": "alphabetic"},
          "encoding": {
            "x": {"datum": -0.1, "type": "quantitative", "axis": {"orient": "bottom", "values": [0.25, 0.75, 1.25, 1.75, 2.25, 2.75], "tickSize": -10.5, "labels": false, "title": null}},
            "y": {"datum": 78731, "type": "quantitative", "axis": {"orient": "left", "values": [52500, 57500, 62500, 67500, 72500, 77500], "tickSize": -10.5, "labels": false, "title": null}}
          }
        },
        {"data": {"values": [{}]}, "mark": {"type": "rule", "color": "#525252", "strokeWidth": 7, "strokeCap": "round"},
          "encoding": {"x": {"datum": 2.716, "type": "quantitative", "axis": null}, "x2": {"datum": 2.964}, "y": {"datum": 80000, "type": "quantitative", "axis": null}}},
        {"data": {"values": [{}]}, "mark": {"type": "rule", "color": "#f64242", "strokeWidth": 7, "strokeCap": "round"},
          "encoding": {"x": {"datum": 2.716, "type": "quantitative", "axis": null}, "x2": {"datum": 2.964}, "y": {"datum": 78534, "type": "quantitative", "axis": null}}},
        {"data": {"values": [{}]}, "mark": {"type": "rule", "color": "#1a6ddf", "strokeWidth": 7, "strokeCap": "round"},
          "encoding": {"x": {"datum": 2.716, "type": "quantitative", "axis": null}, "x2": {"datum": 2.964}, "y": {"datum": 77068, "type": "quantitative", "axis": null}}},
        {"data": {"values": [{}]}, "mark": {"type": "rule", "color": "#36ad6a", "strokeWidth": 7, "strokeCap": "round"},
          "encoding": {"x": {"datum": 2.716, "type": "quantitative", "axis": null}, "x2": {"datum": 2.964}, "y": {"datum": 75602, "type": "quantitative", "axis": null}}},
        {"data": {"values": [{}]}, "mark": {"type": "rule", "color": "#b475e1", "strokeWidth": 7, "strokeCap": "round"},
          "encoding": {"x": {"datum": 2.716, "type": "quantitative", "axis": null}, "x2": {"datum": 2.964}, "y": {"datum": 74136, "type": "quantitative", "axis": null}}},
        {"data": {"values": [{}]}, "mark": {"type": "text", "text": "313k", "fontSize": 54, "align": "left", "baseline": "middle"},
          "encoding": {"x": {"datum": 2.988, "type": "quantitative", "axis": null}, "y": {"datum": 80000, "type": "quantitative", "axis": null}}},
        {"data": {"values": [{}]}, "mark": {"type": "text", "text": "343k", "fontSize": 54, "align": "left", "baseline": "middle"},
          "encoding": {"x": {"datum": 2.988, "type": "quantitative", "axis": null}, "y": {"datum": 78534, "type": "quantitative", "axis": null}}},
        {"data": {"values": [{}]}, "mark": {"type": "text", "text": "373k", "fontSize": 54, "align": "left", "baseline": "middle"},
          "encoding": {"x": {"datum": 2.988, "type": "quantitative", "axis": null}, "y": {"datum": 77068, "type": "quantitative", "axis": null}}},
        {"data": {"values": [{}]}, "mark": {"type": "text", "text": "403k", "fontSize": 54, "align": "left", "baseline": "middle"},
          "encoding": {"x": {"datum": 2.988, "type": "quantitative", "axis": null}, "y": {"datum": 75602, "type": "quantitative", "axis": null}}},
        {"data": {"values": [{}]}, "mark": {"type": "text", "text": "433k", "fontSize": 54, "align": "left", "baseline": "middle"},
          "encoding": {"x": {"datum": 2.988, "type": "quantitative", "axis": null}, "y": {"datum": 74136, "type": "quantitative", "axis": null}}}
      ]
    }
  ]
}
